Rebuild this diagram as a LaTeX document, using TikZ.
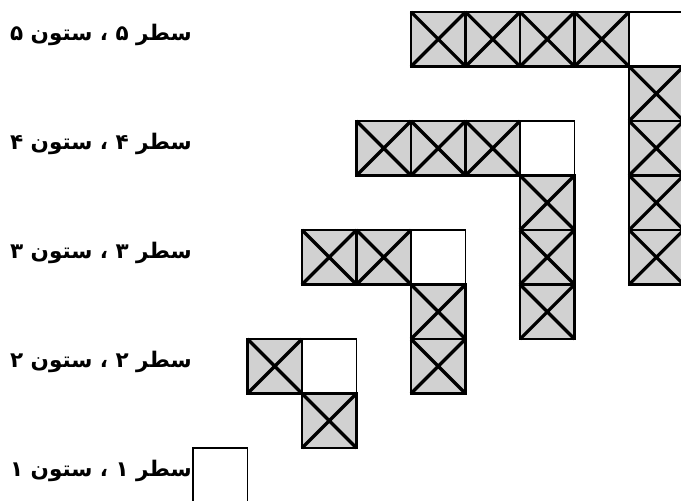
\documentclass[tikz,border=0pt]{standalone}
\usepackage{fontspec}
\newfontfamily\arabicfont[Script=Arabic]{DejaVu Sans}
\TeXXeTstate=1

% one stippled cell with its cross, top-left corner at (#1,#2)
\newcommand\crossedcell[2]{%
  \fill[black!18] (#1,#2) rectangle ++(1,1);
  \draw[line width=3.2pt] (#1,#2) -- ++(1,1) (#1+1,#2) -- ++(-1,1);
  \draw[line width=2.2pt] (#1,#2) rectangle ++(1,1);
}

\begin{document}
\begin{tikzpicture}[x=54.5pt, y=-54.5pt,
    rowlabel/.style={anchor=east, inner sep=0pt,
      font=\arabicfont\bfseries\fontsize{21.5}{24}\selectfont},
    emptycell/.style={draw, line width=1.3pt}]
  \useasboundingbox (-3.541,-0.22) rectangle (8.954,8.972);

  \foreach \r/\d in {1/۱, 2/۲, 3/۳, 4/۴, 5/۵} {
    \pgfmathtruncatemacro\colc{2*\r-2}
    \pgfmathtruncatemacro\rowt{10-2*\r}
    % the row arm and the column arm
    \ifnum\r>1
      \foreach \k in {1,...,\numexpr\r-1\relax} {
        \crossedcell{\colc-\k}{\rowt}
        \crossedcell{\colc}{\rowt+\k}
      }
    \fi
    % the corner cell stays empty
    \draw[emptycell] (\colc,\rowt) rectangle ++(1,1);
    \node[rowlabel] (lab\r) at (-0.02,\rowt+0.42) {\beginR سطر \d{} ، ستون \d\endR};
  }
\end{tikzpicture}
\end{document}
